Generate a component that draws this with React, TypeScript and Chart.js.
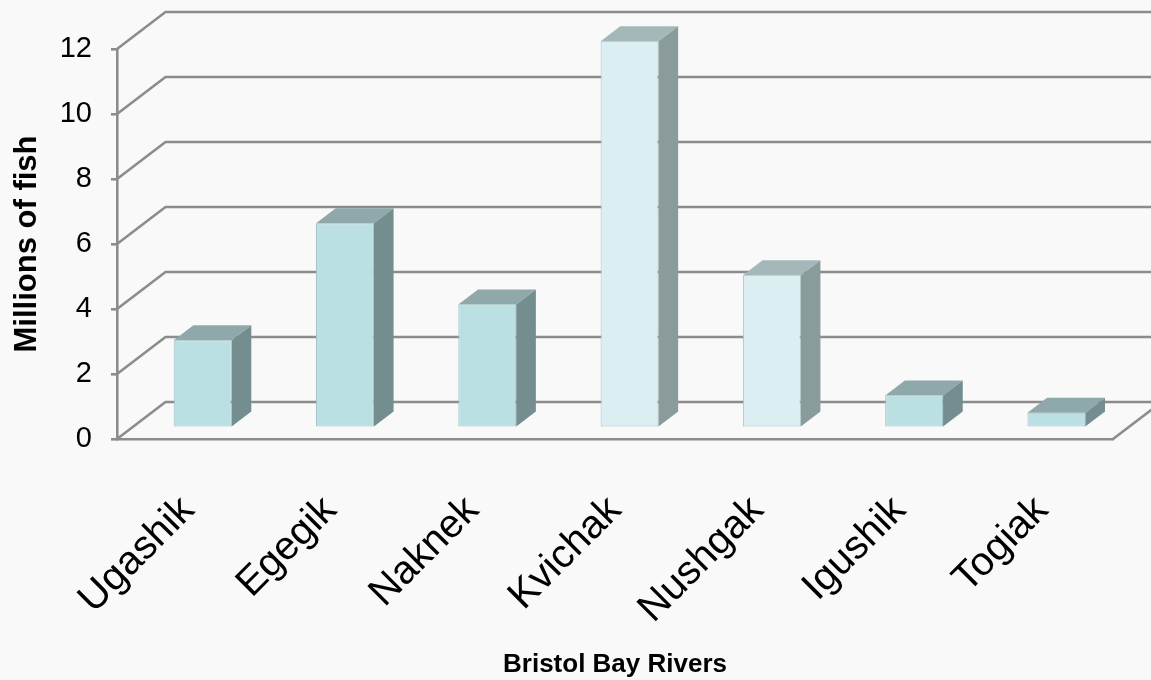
import { useEffect, useRef } from "react";
import { Chart, registerables } from "chart.js";

Chart.register(...registerables);

// Sockeye run size by river, millions of fish
const rivers = ["Ugashik", "Egegik", "Naknek", "Kvichak", "Nushgak", "Igushik", "Togiak"];
const fishMillions = [2.7, 6.3, 3.8, 11.9, 4.7, 1.0, 0.47];
const yTickValues = [0, 2, 4, 6, 8, 10, 12];

// Face shading per bar: [front, top, side]
const tealFaces = ["#bbe0e3", "#8fa9ab", "#748e8f"];
const paleFaces = ["#dbeef1", "#a4b8b9", "#8a9b9b"];
const barFaces = [tealFaces, tealFaces, tealFaces, paleFaces, paleFaces, tealFaces, tealFaces];

const GRID = "#8c8c8c";
const FONT = "Arial, 'Liberation Sans', sans-serif";

// Oblique projection of the chart depth
const WALL_DX = 48.5;
const WALL_DY = -37;
const BAR_FRONT = 0.3; // bar front face position as a fraction of the depth
const BAR_DEPTH = 0.405; // bar thickness as a fraction of the depth

const depthPlugin = {
  id: "depth3d",
  beforeDatasetsDraw(chart: any) {
    const { ctx, chartArea: a, scales } = chart;
    const y = scales.y;
    ctx.save();
    ctx.strokeStyle = GRID;
    ctx.lineWidth = 2.6;
    ctx.beginPath();
    for (const v of yTickValues) {
      const py = y.getPixelForValue(v);
      ctx.moveTo(a.left, py);
      ctx.lineTo(a.left + WALL_DX, py + WALL_DY);
      ctx.lineTo(a.right + WALL_DX, py + WALL_DY);
    }
    const p0 = y.getPixelForValue(0);
    ctx.moveTo(a.right, p0);
    ctx.lineTo(a.right + WALL_DX, p0 + WALL_DY);
    ctx.stroke();
    ctx.restore();
  },
  beforeDatasetDraw(chart: any) {
    chart.ctx.save();
    chart.ctx.translate(WALL_DX * BAR_FRONT, WALL_DY * BAR_FRONT);
  },
  afterDatasetDraw(chart: any, args: any) {
    const ctx = chart.ctx;
    ctx.restore();
    const fx = WALL_DX * BAR_FRONT;
    const fy = WALL_DY * BAR_FRONT;
    const bx = WALL_DX * BAR_DEPTH;
    const by = WALL_DY * BAR_DEPTH;
    args.meta.data.forEach((el: any, i: number) => {
      const { x, y, base, width } = el.getProps(["x", "y", "base", "width"], true);
      const L = x - width / 2 + fx;
      const R = x + width / 2 + fx;
      const T = y + fy;
      const B = base + fy;
      ctx.save();
      ctx.fillStyle = barFaces[i][1];
      ctx.beginPath();
      ctx.moveTo(L, T);
      ctx.lineTo(R, T);
      ctx.lineTo(R + bx, T + by);
      ctx.lineTo(L + bx, T + by);
      ctx.closePath();
      ctx.fill();
      ctx.fillStyle = barFaces[i][2];
      ctx.beginPath();
      ctx.moveTo(R, T);
      ctx.lineTo(R + bx, T + by);
      ctx.lineTo(R + bx, B + by);
      ctx.lineTo(R, B);
      ctx.closePath();
      ctx.fill();
      ctx.restore();
    });
  },
};

export default function App() {
  const canvasRef = useRef<HTMLCanvasElement | null>(null);

  useEffect(() => {
    const canvas = canvasRef.current;
    if (!canvas) return;
    const chart = new Chart(canvas, {
      type: "bar",
      data: {
        labels: rivers,
        datasets: [
          {
            label: "Millions of fish",
            data: fishMillions,
            backgroundColor: barFaces.map((f) => f[0]),
            borderColor: "#a3c3c7",
            borderWidth: 1,
            borderSkipped: false,
            barPercentage: 0.407,
            categoryPercentage: 1,
            clip: false as any,
          },
        ],
      },
      options: {
        responsive: false,
        animation: false,
        devicePixelRatio: 1,
        layout: { padding: { top: 49, right: 38, left: 0, bottom: 0 } },
        plugins: { legend: { display: false }, tooltip: { enabled: false } },
        scales: {
          x: {
            grid: { display: false },
            border: { display: true, color: GRID, width: 2.6 },
            ticks: {
              color: "#000",
              font: { family: FONT, size: 40 },
              minRotation: 45,
              maxRotation: 45,
              autoSkip: false,
              padding: 40,
            },
            title: {
              display: true,
              text: "Bristol Bay Rivers",
              color: "#000",
              font: { family: FONT, size: 26, weight: "bold" },
              padding: { top: 0, bottom: 0 },
            },
            afterFit: (s: any) => {
              s.height = 241;
            },
          },
          y: {
            min: 0,
            max: 12,
            ticks: {
              stepSize: 2,
              color: "#000",
              font: { family: FONT, size: 29 },
              padding: 19,
            },
            grid: {
              display: true,
              drawOnChartArea: false,
              drawTicks: true,
              tickLength: 6,
              color: GRID,
              lineWidth: 2.6,
            },
            border: { display: true, color: GRID, width: 2.6 },
            title: {
              display: true,
              text: "Millions of fish",
              color: "#000",
              font: { family: FONT, size: 31, weight: "bold" },
              padding: { top: 9, bottom: 0 },
            },
            afterFit: (s: any) => {
              s.width = 117;
            },
          },
        },
      },
      plugins: [depthPlugin],
    });
    return () => chart.destroy();
  }, []);

  return (
    <div
      style={{
        position: "fixed",
        left: 0,
        top: 0,
        width: 1151,
        height: 680,
        background: "#f9f9f9",
      }}
    >
      <canvas ref={canvasRef} width={1151} height={680} style={{ width: 1151, height: 680, display: "block" }} />
    </div>
  );
}
